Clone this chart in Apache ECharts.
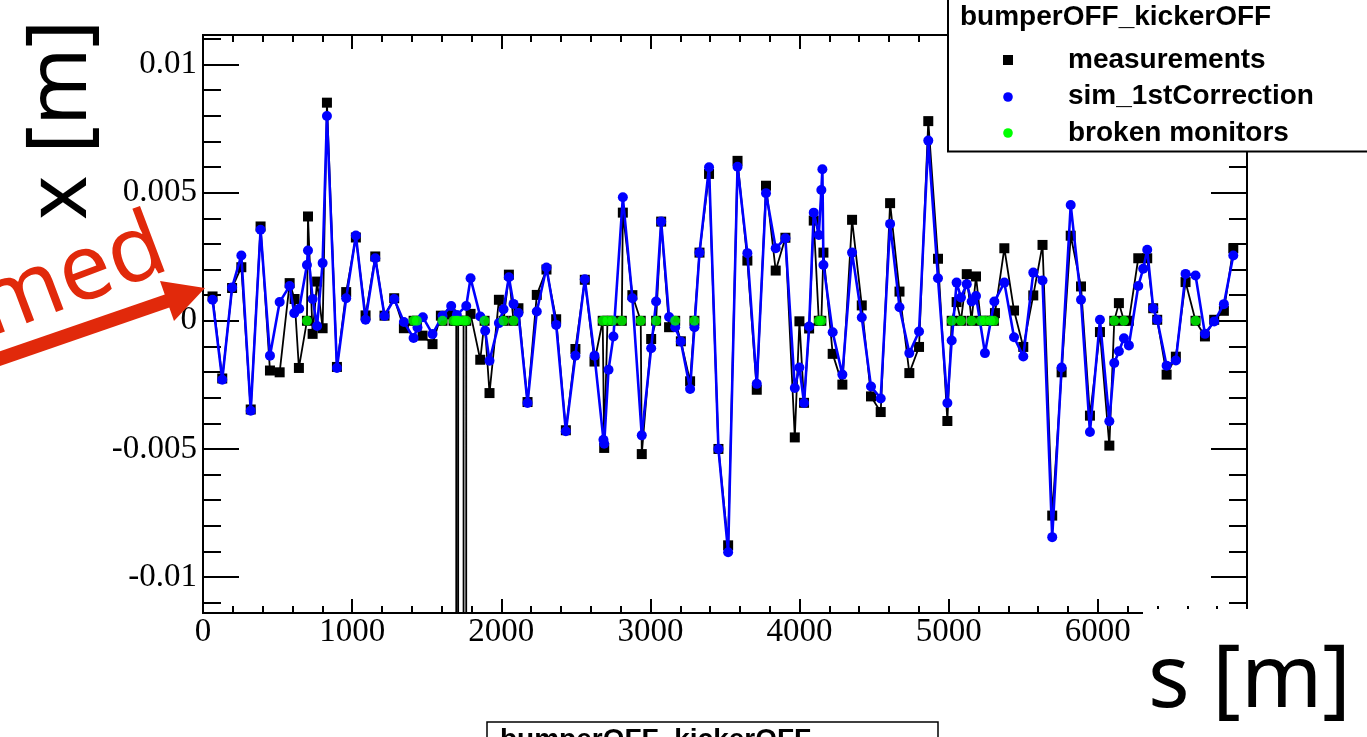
<!DOCTYPE html>
<html>
<head>
<meta charset="utf-8">
<title>bumperOFF_kickerOFF orbit</title>
<script src="https://cdn.jsdelivr.net/npm/echarts@6/dist/echarts.min.js"></script>
<style>
  html, body { margin: 0; padding: 0; background: #ffffff; }
  #chart { width: 1367px; height: 737px; }
</style>
</head>
<body>
<div id="chart"></div>
<script>
// Measured horizontal orbit: monitor position s [m] and reading x [mm]
const sMeas = [64,129,195,257,320,386,449,514,581,614,643,697,704,735,765,802,831,898,960,1025,1090,1155,1217,1282,1347,1412,1434,1472,1539,1595,1606,1664,1680,1698,1704,1711,1747,1756,1765,1794,1859,1888,1921,1984,2015,2051,2082,2115,2176,2238,2303,2368,2433,2497,2560,2625,2680,2690,2712,2745,2808,2815,2879,2935,2942,3005,3038,3072,3125,3166,3204,3266,3295,3329,3393,3456,3521,3584,3650,3713,3775,3840,3905,3968,3999,4030,4064,4095,4129,4146,4160,4222,4287,4352,4417,4479,4544,4607,4670,4736,4801,4863,4928,4991,5020,5053,5082,5121,5153,5183,5215,5243,5280,5303,5310,5373,5438,5500,5567,5629,5694,5757,5818,5887,5947,6014,6077,6110,6141,6175,6208,6271,6331,6371,6398,6461,6523,6588,6655,6718,6780,6845,6908];
const xMeasMM = [0.95,-2.25,1.28,2.09,-3.46,3.68,-1.94,-2.01,1.47,0.85,-1.84,0,4.07,-0.51,1.53,-0.29,8.51,-1.80,1.12,3.25,0.21,2.51,0.20,0.88,-0.29,0,0,-0.58,-0.91,0.2,0,0.25,0,0,-1000,0,0,-1000,0,0.27,-1.52,0,-2.82,0.82,0,1.8,0,0.49,-3.17,1.01,2.0,0.06,-4.27,-1.1,1.6,-1.59,0,-4.96,0,0,0,4.22,1.0,0,-5.2,-0.71,0,3.87,-0.25,0,-0.8,-2.36,0,2.66,5.73,-5.0,-8.76,6.24,2.35,-2.69,5.27,1.96,3.24,-4.55,-0.02,-3.2,-0.3,3.91,0,0,2.66,-1.29,-2.49,3.94,0.6,-2.95,-3.56,4.59,1.14,-2.04,-1.02,7.79,2.42,-3.91,0,0.73,0,1.82,0,1.73,0,0,0,0,0.3,2.83,0.4,-1.02,0.99,2.96,-7.6,-2.01,3.32,1.34,-3.7,-0.44,-4.87,0,0.69,0,0,2.44,2.44,0.49,0.04,-2.1,-1.4,1.51,0,-0.61,0.04,0.39,2.83];

// Simulated orbit after the first correction
const sSim = [64,129,195,257,320,386,449,514,581,612,645,697,704,735,765,802,831,898,960,1025,1090,1155,1217,1282,1347,1412,1438,1474,1539,1606,1664,1702,1765,1794,1859,1892,1921,1984,2015,2051,2082,2115,2176,2238,2303,2368,2433,2497,2560,2625,2685,2690,2719,2752,2815,2879,2942,3005,3038,3072,3125,3166,3204,3266,3295,3329,3393,3456,3521,3584,3650,3713,3775,3840,3905,3968,3999,4030,4064,4095,4129,4146,4153,4160,4222,4287,4352,4417,4479,4544,4607,4670,4736,4801,4863,4928,4991,5020,5053,5082,5121,5154,5183,5243,5306,5373,5438,5500,5567,5629,5694,5757,5818,5887,5947,6014,6077,6110,6141,6175,6208,6271,6304,6331,6371,6398,6461,6523,6588,6655,6718,6780,6845,6908];
const xSimMM = [0.82,-2.3,1.30,2.55,-3.51,3.55,-1.36,0.73,1.36,0.30,0.47,2.18,2.74,0.85,-0.2,2.25,7.99,-1.84,0.88,3.33,0.04,2.44,0.19,0.85,-0.05,-0.67,-0.26,0.14,-0.52,0.2,0.58,0.23,0.58,1.66,0.17,-0.39,-1.56,-0.09,0.45,1.70,0.66,0.30,-3.21,0.36,2.08,-0.16,-4.31,-1.36,1.62,-1.36,-4.64,-4.8,-1.91,-0.61,4.82,0.88,-4.47,-1.07,0.75,3.87,0.15,-0.25,-0.81,-2.66,-0.25,2.66,5.99,-5.0,-9.03,6.01,2.64,-2.46,4.98,2.83,3.22,-2.62,-1.82,-3.21,-0.22,4.22,3.35,5.1,5.91,2.18,-0.45,-2.1,2.66,0.13,-2.56,-3.03,3.78,0.53,-1.26,-0.42,7.03,1.66,-3.21,-0.77,1.49,0.91,1.43,0.75,0.97,-1.26,0.75,1.49,-0.64,-1.39,1.88,1.57,-8.44,-1.82,4.52,0.82,-4.34,0.04,-3.92,-1.65,-1.19,-0.68,-0.96,1.36,2.03,2.77,0.49,0.04,-1.75,-1.55,1.83,1.77,-0.51,-0.03,0.65,2.55];

// Monitors flagged as broken (drawn at x = 0)
const sBroken = [697,1412,1434,1606,1680,1698,1711,1747,1765,1888,2015,2082,2680,2712,2745,2808,2935,3038,3166,3295,4129,4146,5020,5082,5153,5215,5243,5280,5303,6110,6175,6655];

// Axis ticks
const yMajorTicks = [-0.01, -0.005, 0, 0.005, 0.01];
const yMinorTicks = [-0.011,-0.010,-0.009,-0.008,-0.007,-0.006,-0.005,-0.004,-0.003,-0.002,-0.001,0,0.001,0.002,0.003,0.004,0.005,0.006,0.007,0.008,0.009,0.010,0.011];
const yTickLabels = ['-0.01', '-0.005', '0', '0.005', '0.01'];
const xRange = [0, 7000];
const yRange = [-0.0114, 0.01115];

const legendTitle = 'bumperOFF_kickerOFF';
const seriesNames = ['measurements', 'sim_1stCorrection', 'broken monitors'];

const toPairs = (s, vMM) => s.map((v, i) => [v, vMM[i] / 1000]);

const AX = '#000000';
const serif = '"Liberation Serif", "Times New Roman", serif';
const sans = '"Liberation Sans", Arial, sans-serif';
const slideFont = '"Noto Sans", Lato, sans-serif';

function xAxisDef(pos, labels) {
  return {
    type: 'value', position: pos, min: xRange[0], max: xRange[1], interval: 1000,
    axisLine: { show: true, onZero: false, lineStyle: { color: AX, width: 2 } },
    axisTick: { show: true, inside: true, length: 14, lineStyle: { color: AX, width: 2 } },
    minorTick: { show: true, splitNumber: 5, length: 7, lineStyle: { color: AX, width: 2 } },
    axisLabel: { show: labels, margin: 3, color: AX, fontFamily: serif, fontSize: 33, formatter: v => String(v) },
    splitLine: { show: false }, minorSplitLine: { show: false }
  };
}
function yAxisDef(pos, ticks, len, labels) {
  return {
    type: 'value', position: pos, min: yRange[0], max: yRange[1],
    axisLine: { show: true, onZero: false, lineStyle: { color: AX, width: 2 } },
    axisTick: { show: true, inside: true, length: len, customValues: ticks, lineStyle: { color: AX, width: 2 } },
    axisLabel: {
      show: labels, margin: 6, color: AX, fontFamily: serif, fontSize: 33,
      customValues: yMajorTicks,
      formatter: v => {
        const i = yMajorTicks.findIndex(t => Math.abs(t - v) < 1e-9);
        return i >= 0 ? yTickLabels[i] : '';
      }
    },
    splitLine: { show: false }
  };
}

const chart = echarts.init(document.getElementById('chart'), null, { renderer: 'canvas' });

const redInk = '#e1290b';
const legendFont = 'bold 28px ' + sans;

chart.setOption({
  animation: false,
  backgroundColor: '#ffffff',
  grid: { left: 203, top: 35, width: 1044, height: 578, containLabel: false, show: false },
  xAxis: [xAxisDef('bottom', true), xAxisDef('top', false)],
  yAxis: [
    yAxisDef('left', yMajorTicks, 36, true),
    yAxisDef('left', yMinorTicks, 18, false),
    yAxisDef('right', yMajorTicks, 36, false),
    yAxisDef('right', yMinorTicks, 18, false)
  ],
  series: [
    {
      name: seriesNames[0], type: 'line', xAxisIndex: 0, yAxisIndex: 0,
      data: toPairs(sMeas, xMeasMM), clip: true, z: 2,
      symbol: 'rect', symbolSize: 10, showAllSymbol: true,
      lineStyle: { color: '#000000', width: 1.8 },
      itemStyle: { color: '#000000' }
    },
    {
      name: seriesNames[1], type: 'line', xAxisIndex: 0, yAxisIndex: 0,
      data: toPairs(sSim, xSimMM), clip: true, z: 3,
      symbol: 'circle', symbolSize: 10, showAllSymbol: true,
      lineStyle: { color: '#0000ff', width: 2.6 },
      itemStyle: { color: '#0000ff' }
    },
    {
      name: seriesNames[2], type: 'scatter', xAxisIndex: 0, yAxisIndex: 0,
      data: sBroken.map(s => [s, 0]), z: 4,
      symbol: 'circle', symbolSize: 10,
      itemStyle: { color: '#00ff00' }
    }
  ],
  graphic: [
    // slide overlay: white patch under the s [m] caption
    { type: 'rect', z: 50, shape: { x: 1143, y: 609, width: 240, height: 140 }, style: { fill: '#ffffff' } },
    { type: 'text', z: 60, x: 1148, y: 726, style: { text: 's [m]', font: '87px ' + slideFont, fill: '#000', align: 'left', verticalAlign: 'bottom' } },
    { type: 'text', z: 60, x: 104, y: 220, rotation: Math.PI / 2, style: { text: 'x [m]', font: '84px ' + slideFont, fill: '#000', align: 'left', verticalAlign: 'bottom' } },
    // red annotation arrow
    { type: 'line', z: 60, shape: { x1: -10, y1: 362, x2: 170, y2: 300 }, style: { stroke: redInk, lineWidth: 14 } },
    { type: 'polygon', z: 60, shape: { points: [[205, 288], [160, 281], [174, 321]] }, style: { fill: redInk } },
    { type: 'text', z: 60, x: 179, y: 287, rotation: 0.36, style: { text: 'med', font: '92px ' + slideFont, fill: redInk, align: 'right', verticalAlign: 'bottom' } },
    // legend box
    { type: 'rect', z: 70, shape: { x: 948, y: -10, width: 460, height: 161.5 }, style: { fill: '#ffffff', stroke: '#000', lineWidth: 2 } },
    { type: 'text', z: 71, x: 960, y: 17, style: { text: legendTitle, font: legendFont, fill: '#000', align: 'left', verticalAlign: 'middle' } },
    { type: 'rect', z: 71, shape: { x: 1003, y: 55, width: 10, height: 10 }, style: { fill: '#000' } },
    { type: 'circle', z: 71, shape: { cx: 1008, cy: 97, r: 4.8 }, style: { fill: '#0000ff' } },
    { type: 'circle', z: 71, shape: { cx: 1008, cy: 133, r: 4.8 }, style: { fill: '#00ff00' } },
    { type: 'text', z: 71, x: 1068, y: 60, style: { text: seriesNames[0], font: legendFont, fill: '#000', align: 'left', verticalAlign: 'middle' } },
    { type: 'text', z: 71, x: 1068, y: 96, style: { text: seriesNames[1], font: legendFont, fill: '#000', align: 'left', verticalAlign: 'middle' } },
    { type: 'text', z: 71, x: 1068, y: 133, style: { text: seriesNames[2], font: legendFont, fill: '#000', align: 'left', verticalAlign: 'middle' } },
    // second legend box, cut by the bottom edge
    { type: 'rect', z: 70, shape: { x: 487, y: 722, width: 451, height: 60 }, style: { fill: '#ffffff', stroke: '#000', lineWidth: 1.5 } },
    { type: 'text', z: 71, x: 500, y: 726, style: { text: legendTitle, font: legendFont, fill: '#000', align: 'left', verticalAlign: 'top' } }
  ]
});
</script>
</body>
</html>
